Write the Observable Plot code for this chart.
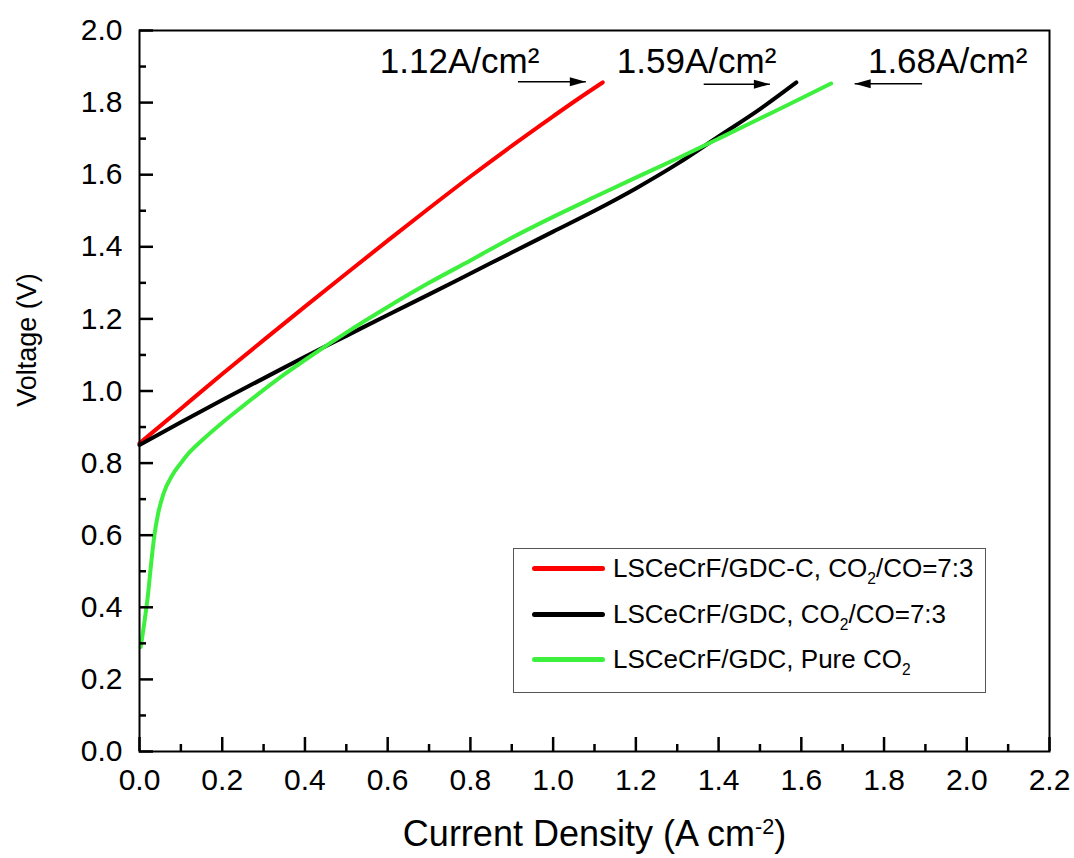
<!DOCTYPE html>
<html><head><meta charset="utf-8">
<script src="https://cdn.jsdelivr.net/npm/d3@7"></script>
<script src="https://cdn.jsdelivr.net/npm/@observablehq/plot@0.6"></script>
<style>
body{margin:0;background:#fff;}
#wrap{position:relative;width:1074px;height:858px;font-family:"Liberation Sans",Arial,sans-serif;}
#legend{position:absolute;left:513px;top:548px;width:471px;height:143px;border:1.5px solid #555;background:#fff;box-sizing:content-box;}
.row{position:absolute;left:18px;height:30px;display:flex;align-items:center;font-size:26px;color:#000;white-space:nowrap;}
.sw{width:73px;height:5px;border-radius:2.5px;margin-right:8px;}
.sub{font-size:0.6em;position:relative;top:0.45em;}
</style></head><body><div id="wrap"></div>
<script>
// ---- data ----
const seriesNames = ["LSCeCrF/GDC-C, CO2/CO=7:3", "LSCeCrF/GDC, CO2/CO=7:3", "LSCeCrF/GDC, Pure CO2"];
const seriesColors = ["#ff0000", "#000000", "#3ef03e"];

const redX = [0, 0.1, 0.2, 0.3, 0.4, 0.5, 0.6, 0.7, 0.8, 0.9, 1.0, 1.06, 1.12];
const redY = [0.855, 0.951, 1.047, 1.141, 1.234, 1.326, 1.417, 1.507, 1.595, 1.68, 1.762, 1.81, 1.856];

const blackX = [0, 0.1, 0.2, 0.3, 0.4, 0.5, 0.6, 0.7, 0.8, 0.9, 1.0, 1.1, 1.2, 1.3, 1.4, 1.5, 1.588];
const blackY = [0.85, 0.913, 0.975, 1.035, 1.095, 1.153, 1.211, 1.268, 1.326, 1.384, 1.442, 1.5, 1.562, 1.63, 1.706, 1.782, 1.856];

const greenX = [0.003, 0.012, 0.02, 0.028, 0.036, 0.045, 0.058, 0.08, 0.1, 0.12, 0.15, 0.2, 0.25, 0.3, 0.35, 0.4, 0.5, 0.6, 0.7, 0.8, 0.9, 1.0, 1.1, 1.2, 1.3, 1.4, 1.5, 1.6, 1.672];
const greenY = [0.29, 0.36, 0.43, 0.52, 0.6, 0.66, 0.715, 0.768, 0.8, 0.829, 0.862, 0.912, 0.958, 1.003, 1.046, 1.086, 1.162, 1.233, 1.3, 1.362, 1.425, 1.483, 1.538, 1.592, 1.645, 1.70, 1.756, 1.812, 1.853];

const majorX = [0, 0.2, 0.4, 0.6, 0.8, 1.0, 1.2, 1.4, 1.6, 1.8, 2.0, 2.2];
const minorX = [0.1, 0.3, 0.5, 0.7, 0.9, 1.1, 1.3, 1.5, 1.7, 1.9, 2.1];
const majorY = [0, 0.2, 0.4, 0.6, 0.8, 1.0, 1.2, 1.4, 1.6, 1.8, 2.0];
const minorY = [0.1, 0.3, 0.5, 0.7, 0.9, 1.1, 1.3, 1.5, 1.7, 1.9];

const annoLabels = ["1.12A/cm²", "1.59A/cm²", "1.68A/cm²"];
const annoX = [0.581, 1.154, 1.761];
const annoY = [1.883, 1.883, 1.883];
const arrowX1 = [0.915, 1.364, 1.892];
const arrowX2 = [1.079, 1.524, 1.729];
const arrowY = [1.858, 1.851, 1.852];

const xTitle = "Current Density (A cm-2)";
const yTitle = "Voltage (V)";

// ---- build tables ----
const rows = [];
[[redX, redY], [blackX, blackY], [greenX, greenY]].forEach(([xs, ys], s) => {
  xs.forEach((x, i) => rows.push({series: seriesNames[s], x, y: ys[i]}));
});
const arrows = arrowX1.map((x1, i) => ({x1, x2: arrowX2[i], y: arrowY[i]}));
const annos = annoLabels.map((t, i) => ({t, x: annoX[i], y: annoY[i]}));

const W = 1074, H = 858, mT = 30, mR = 25, mB = 107, mL = 139;
const fw = W - mL - mR, fh = H - mT - mB;

const chart = Plot.plot({
  width: W, height: H,
  marginTop: mT, marginRight: mR, marginBottom: mB, marginLeft: mL,
  style: {fontFamily: "'Liberation Sans', Arial, sans-serif", fontSize: "30px", color: "#000", background: "#fff", overflow: "visible"},
  x: {domain: [0, 2.2], label: null},
  y: {domain: [0, 2.0], label: null},
  color: {domain: seriesNames, range: seriesColors},
  marks: [
    Plot.line(rows, {x: "x", y: "y", z: "series", stroke: "series", strokeWidth: 4, curve: "monotone-x"}),
    Plot.frame({stroke: "#000", strokeWidth: 2}),
    Plot.tickX(majorX, {x: d => d, insetTop: fh - 14, strokeWidth: 2.5}),
    Plot.tickX(minorX, {x: d => d, insetTop: fh - 7, strokeWidth: 2.5}),
    Plot.tickY(majorY, {y: d => d, insetRight: fw - 14, strokeWidth: 2.5}),
    Plot.tickY(minorY, {y: d => d, insetRight: fw - 7, strokeWidth: 2.5}),
    Plot.axisX(majorX, {tickSize: 0, tickPadding: 17, tickFormat: d3.format(".1f"), label: null, fontSize: 30}),
    Plot.axisY(majorY, {tickSize: 0, tickPadding: 17, tickFormat: d3.format(".1f"), label: null, fontSize: 30}),
    Plot.link(arrows, {x1: "x1", x2: "x2", y1: "y", y2: "y", stroke: "#000", strokeWidth: 1.5}),
    Plot.vector(arrows, {x: "x2", y: "y", rotate: d => d.x2 > d.x1 ? 90 : -90, length: 16, r: 4.5, shape: "spike", anchor: "end", fill: "#000", stroke: "none"}),
    Plot.text(annos, {x: "x", y: "y", text: "t", textAnchor: "start", lineAnchor: "bottom", fontSize: 35}),
    Plot.text([xTitle], {frameAnchor: "bottom", dy: 94, lineAnchor: "bottom", textAnchor: "middle", fontSize: 36}),
    Plot.text([yTitle], {frameAnchor: "left", rotate: -90, dx: -112, dy: -51, textAnchor: "middle", fontSize: 27})
  ]
});

// superscript in x title
d3.select(chart).selectAll("text").each(function() {
  const el = d3.select(this);
  if (el.text() === xTitle) {
    el.text(null);
    el.append("tspan").text("Current Density (A cm");
    el.append("tspan").attr("dy", "-0.55em").attr("font-size", "0.6em").text("-2");
    el.append("tspan").attr("dy", "0.33em").text(")");
  }
});

const wrap = document.getElementById("wrap");
wrap.appendChild(chart);

// legend inside the plot
const legend = document.createElement("div");
legend.id = "legend";
const centers = [19, 65, 110];
seriesNames.forEach((name, i) => {
  const row = document.createElement("div");
  row.className = "row";
  row.style.top = (centers[i] - 15) + "px";
  const sw = document.createElement("div");
  sw.className = "sw";
  sw.style.background = seriesColors[i];
  row.appendChild(sw);
  const txt = document.createElement("span");
  txt.innerHTML = name.replace(/CO2/g, 'CO<span class="sub">2</span>');
  row.appendChild(txt);
  legend.appendChild(row);
});
wrap.appendChild(legend);
</script></body></html>
